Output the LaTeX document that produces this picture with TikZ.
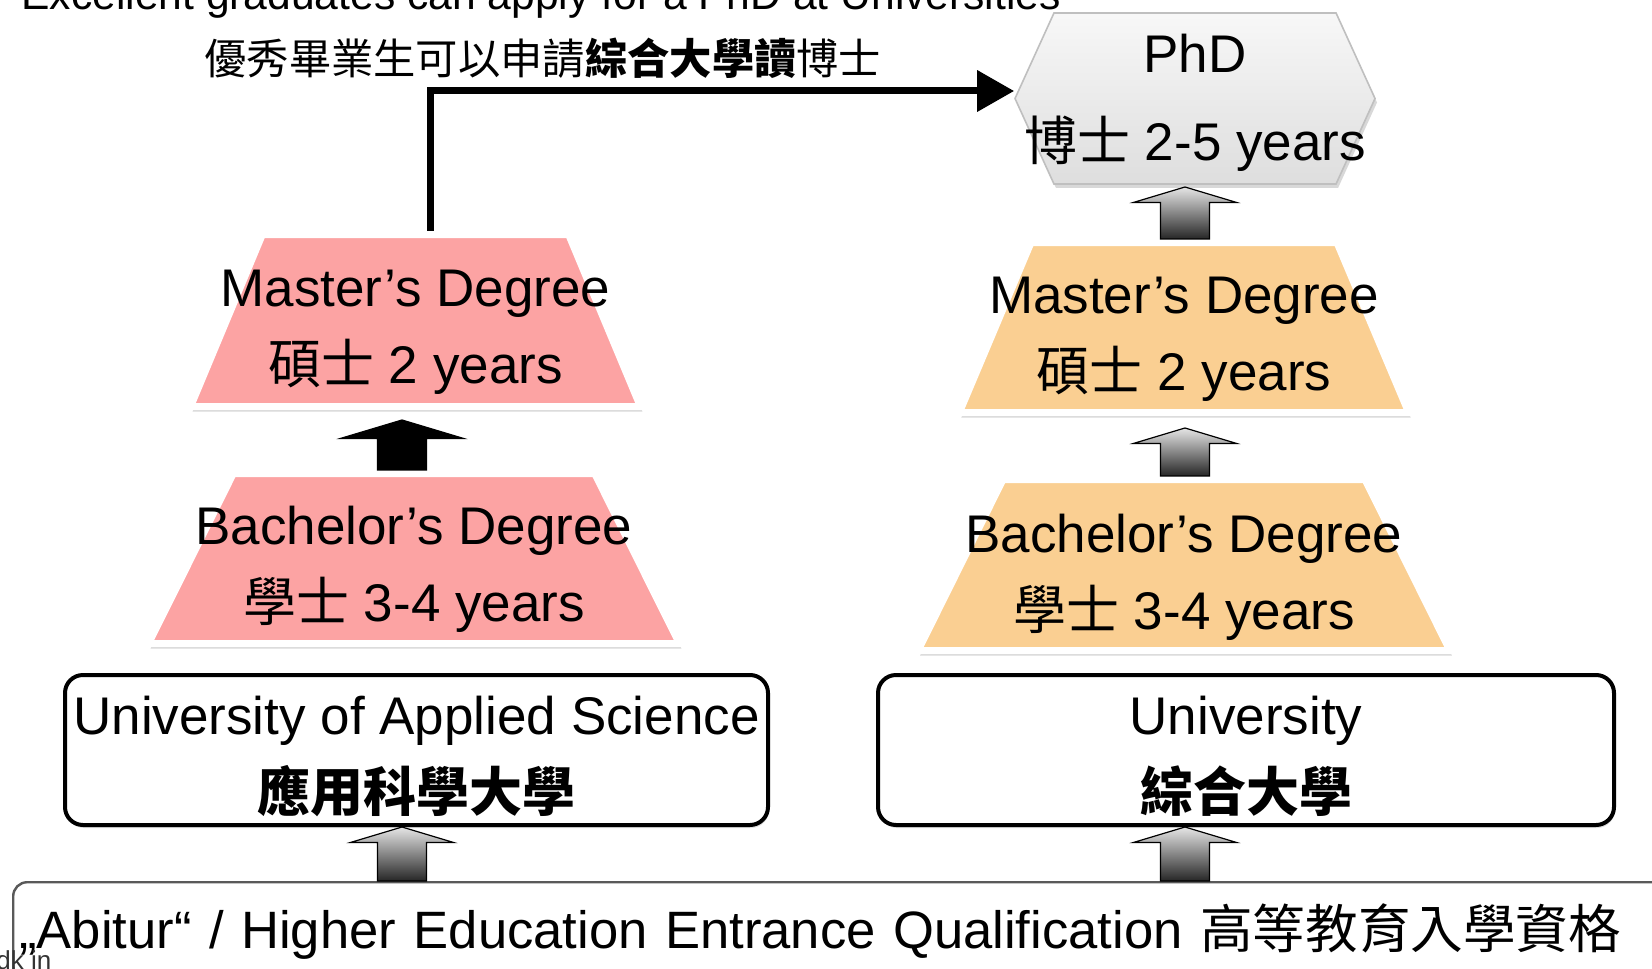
\documentclass[tikz,border=0pt]{standalone}
\usepackage{fontspec}
\setmainfont{Liberation Sans}
\newfontfamily\cjk{Noto Sans CJK TC}
\usepackage{tikz}
\usetikzlibrary{shapes.geometric, shapes.symbols, shadows, arrows.meta}
\definecolor{mastpink}{RGB}{252,163,163}
\definecolor{uniorange}{RGB}{250,207,146}

\begin{document}
\begin{tikzpicture}[x=0.5pt, y=-0.5pt, >=Stealth,
    degree/.style={trapezium, trapezium stretches=true, trapezium angle=76.8, draw=white, line width=3.5pt, inner sep=2pt,
      drop shadow={shadow xshift=1pt, shadow yshift=-2.5pt, opacity=.3}},
    boxtext/.style={align=center, inner sep=0pt, font=\fontsize{26.5pt}{38.5pt}\selectfont},
    school/.style={draw=black, line width=2pt, rounded corners=9pt, fill=white, minimum height=75pt, inner sep=0pt,
      drop shadow={shadow xshift=.5pt, shadow yshift=-1.5pt, opacity=.25}},
    garrow/.style={top color=gray!20, bottom color=black!85, draw=black, line width=.6pt},
    barrow/.style={fill=black, draw=black, line width=.6pt},
    pics/blockup/.style 2 args={code={
      \path[pic actions] (-24.5,0) -- (-24.5,{-#1+0.3*#2}) -- (-#2,{-#1+0.3*#2}) -- (0,-#1)
        -- (#2,{-#1+0.3*#2}) -- (24.5,{-#1+0.3*#2}) -- (24.5,0) -- cycle;}}]

    \path[use as bounding box, fill=white] (0,0) rectangle (1652,968);
    \coordinate (colL) at (402,0);
    \coordinate (colR) at (1185,0);

    % headings
    \node[anchor=base west, inner sep=0pt, font=\fontsize{21.3pt}{25pt}\selectfont] (headen) at (21,10)
      {Excellent graduates can apply for a PhD at Universities};
    \node[anchor=west, inner sep=0pt, font=\cjk\fontsize{21.15pt}{25pt}\selectfont] (headzh) at (204,58)
      {優秀畢業生可以申請{\bfseries 綜合大學讀}博士};

    % PhD
    \node[signal, signal to=west and east, signal pointer angle=131, minimum width=180pt, minimum height=85.5pt,
      inner sep=0pt, top color=gray!6, bottom color=gray!26, draw=gray!50, line width=.8pt,
      drop shadow={shadow xshift=1pt, shadow yshift=-2pt, opacity=.3},
      label={[name=phdtext, boxtext, yshift=-2pt]center:PhD\\[5.5pt]{\cjk 博士} 2-5 years}] (phd) at (1195,98.5) {};

    % degrees
    \node[degree, fill=mastpink, minimum width=225pt, minimum height=86pt,
      label={[name=mastLtext, boxtext, yshift=-6pt]center:Master’s Degree\\{\cjk 碩士} 2 years}] (mastL) at (415.5,320.5) {};
    \node[degree, fill=mastpink, minimum width=265.5pt, minimum height=85pt,
      label={[name=bachLtext, boxtext, yshift=-5.5pt]center:Bachelor’s Degree\\{\cjk 學士} 3-4 years}] (bachL) at (414,558.5) {};
    \node[degree, fill=uniorange, minimum width=224.75pt, minimum height=85pt,
      label={[name=mastRtext, boxtext, yshift=-6pt]center:Master’s Degree\\{\cjk 碩士} 2 years}] (mastR) at (1184,327.5) {};
    \node[degree, fill=uniorange, minimum width=266pt, minimum height=85.5pt,
      label={[name=bachRtext, boxtext, yshift=-6pt]center:Bachelor’s Degree\\{\cjk 學士} 3-4 years}] (bachR) at (1184,565) {};

    % schools
    \node[school, minimum width=351.5pt,
      label={[name=uastext, boxtext, yshift=-3pt]center:University of Applied Science\\{\cjk\bfseries 應用科學大學}}] (uas) at (416.5,750) {};
    \node[school, minimum width=368pt,
      label={[name=univtext, boxtext, yshift=-3pt]center:University\\{\cjk\bfseries 綜合大學}}] (univ) at (1246,750) {};

    \node[anchor=north west, draw=black!65, line width=1.2pt, rounded corners=7pt, fill=white, minimum height=49pt,
      text width=826pt, inner xsep=3pt, inner ysep=0pt, align=left, font=\fontsize{26.3pt}{30pt}\selectfont] (abi) at (12,881)
      {„Abitur“ / Higher Education Entrance Qualification {\cjk 高等教育入學資格}};

    % arrows
    \draw[line width=3.5pt, -{Triangle[length=18.5pt, width=20pt]}] ([xshift=7.25pt]mastL.north) |- ([yshift=3.75pt]phd.west);
    \pic[barrow] at (colL |- bachL.north) {blockup={50}{61.5}};
    \pic[garrow] at (colR |- bachR.north) {blockup={48}{51.5}};
    \pic[garrow] at (colR |- mastR.north) {blockup={52}{51.5}};
    \pic[garrow] at (colL |- abi.north) {blockup={54}{51.5}};
    \pic[garrow] at (colR |- abi.north) {blockup={54}{51.5}};

    \node[anchor=base west, inner sep=0pt, font=\fontsize{13pt}{15pt}\selectfont, text=black!80] (cutnote) at (-4,969) {dk in};
\end{tikzpicture}
\end{document}
